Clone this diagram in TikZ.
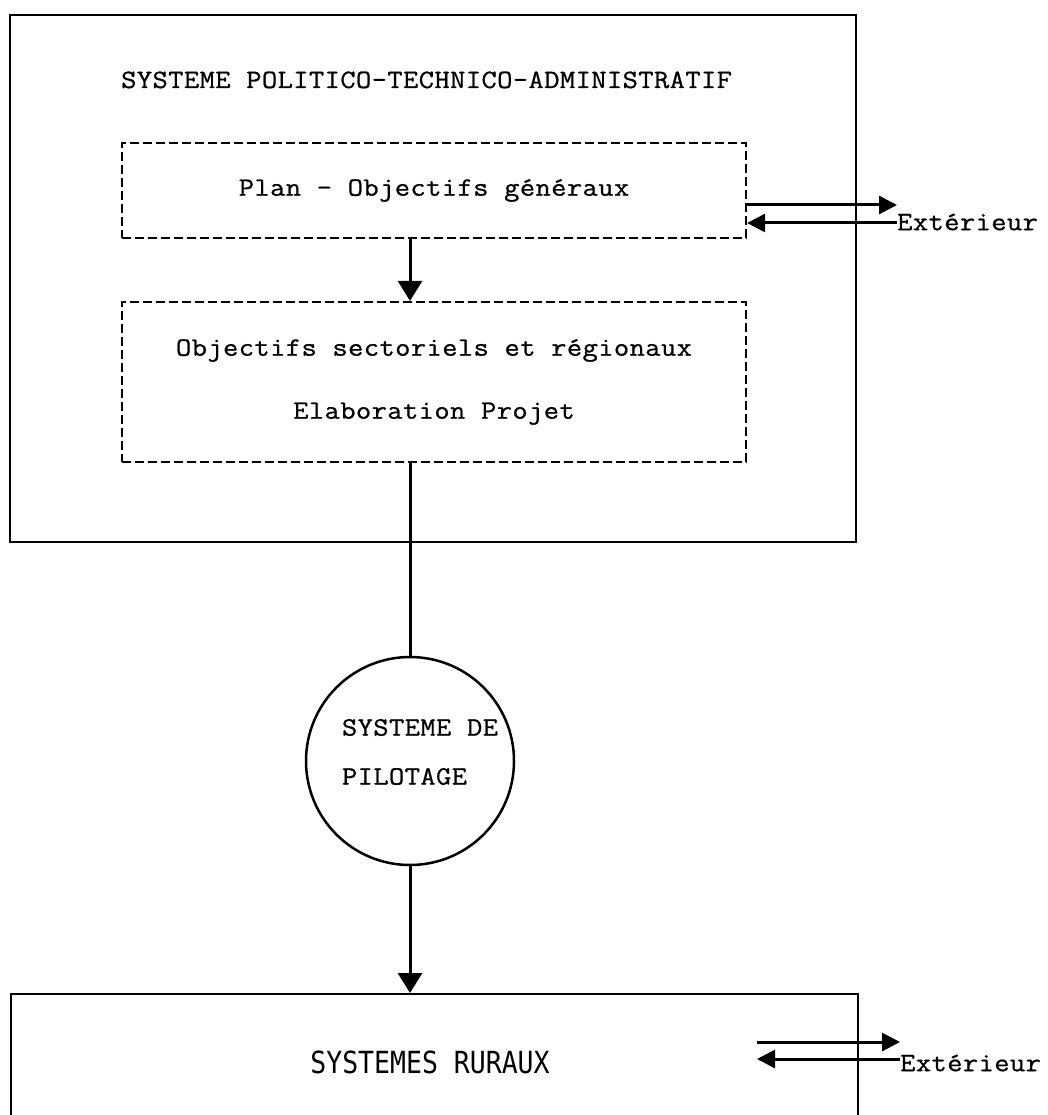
\documentclass[tikz,border=0pt]{standalone}
\usepackage{fontspec}
\usepackage{graphicx}
\setmainfont{Latin Modern Mono}[FakeStretch=1.12,LetterSpace=1.5,FakeBold=0.8]
\newfontfamily\ruralfont{DejaVu Sans Mono}
\usetikzlibrary{arrows.meta,calc}

\begin{document}
\begin{tikzpicture}[x=1pt,y=-1pt,
  solidbox/.style={draw,line width=2pt,inner sep=0pt},
  dashbox/.style={draw,line width=2.2pt,dash pattern=on 9pt off 4pt,inner sep=0pt},
  txt/.style={inner sep=0pt,font=\fontsize{26.5}{30}\selectfont},
  link/.style={line width=3pt},
  arr/.style={line width=3pt,-{Triangle[length=20pt,width=24pt]}},
  extarr/.style={line width=3pt,-{Triangle[length=18pt,width=18pt]}}]

\useasboundingbox (0,0) rectangle (1047,1115);
\clip (0,0) rectangle (1047,1115);

% political-technical-administrative system
\node[solidbox,minimum width=846pt,minimum height=527pt] (pta) at (433,278.5) {};
\node[txt,anchor=base west] (ptatitle) at (121,88) {SYSTEME POLITICO-TECHNICO-ADMINISTRATIF};

\node[dashbox,txt,minimum width=624pt,minimum height=95pt] (plan) at (434,190.5) {Plan - Objectifs généraux};
\node[dashbox,txt,align=center,minimum width=624pt,minimum height=160pt] (obj) at (434,382)
  {Objectifs sectoriels et régionaux\\[33pt]Elaboration Projet};

% steering system
\node[solidbox,circle,minimum size=208pt,line width=2.5pt] (pilot) at (410,761) {};
\node[txt,align=left] (pilottxt) at (420,752) {SYSTEME DE\\[19pt]PILOTAGE};

% rural systems (box runs off the bottom edge)
\node[solidbox,minimum width=847pt,minimum height=160pt,anchor=north west] (rural) at (10,993) {};
\node[inner sep=0pt] (ruraltxt) at (430,1062)
  {\ruralfont\fontsize{26.5}{30}\selectfont\scalebox{1}[1.15]{SYSTEMES RURAUX}};

% exchanges with the outside
\node[txt,anchor=west] (ext1) at (897,222) {Extérieur};
\node[txt,anchor=west] (ext2) at (900,1063) {Extérieur};
\coordinate (ruralin) at (757,1050);

\draw[extarr] (plan.east |- 0,205) -- (ext1.west |- 0,205);
\draw[extarr] (ext1.west |- 0,223) -- (plan.east |- 0,223);
\draw[extarr] (ruralin |- 0,1042) -- (ext2.west |- 0,1042);
\draw[extarr] (ext2.west |- 0,1059) -- (ruralin |- 0,1059);

% vertical flow
\draw[arr] (plan.south -| pilot.north) -- (obj.north -| pilot.north);
\draw[link] (obj.south -| pilot.north) -- (pilot.north);
\draw[arr] (pilot.south) -- (rural.north -| pilot.south);
\end{tikzpicture}
\end{document}
